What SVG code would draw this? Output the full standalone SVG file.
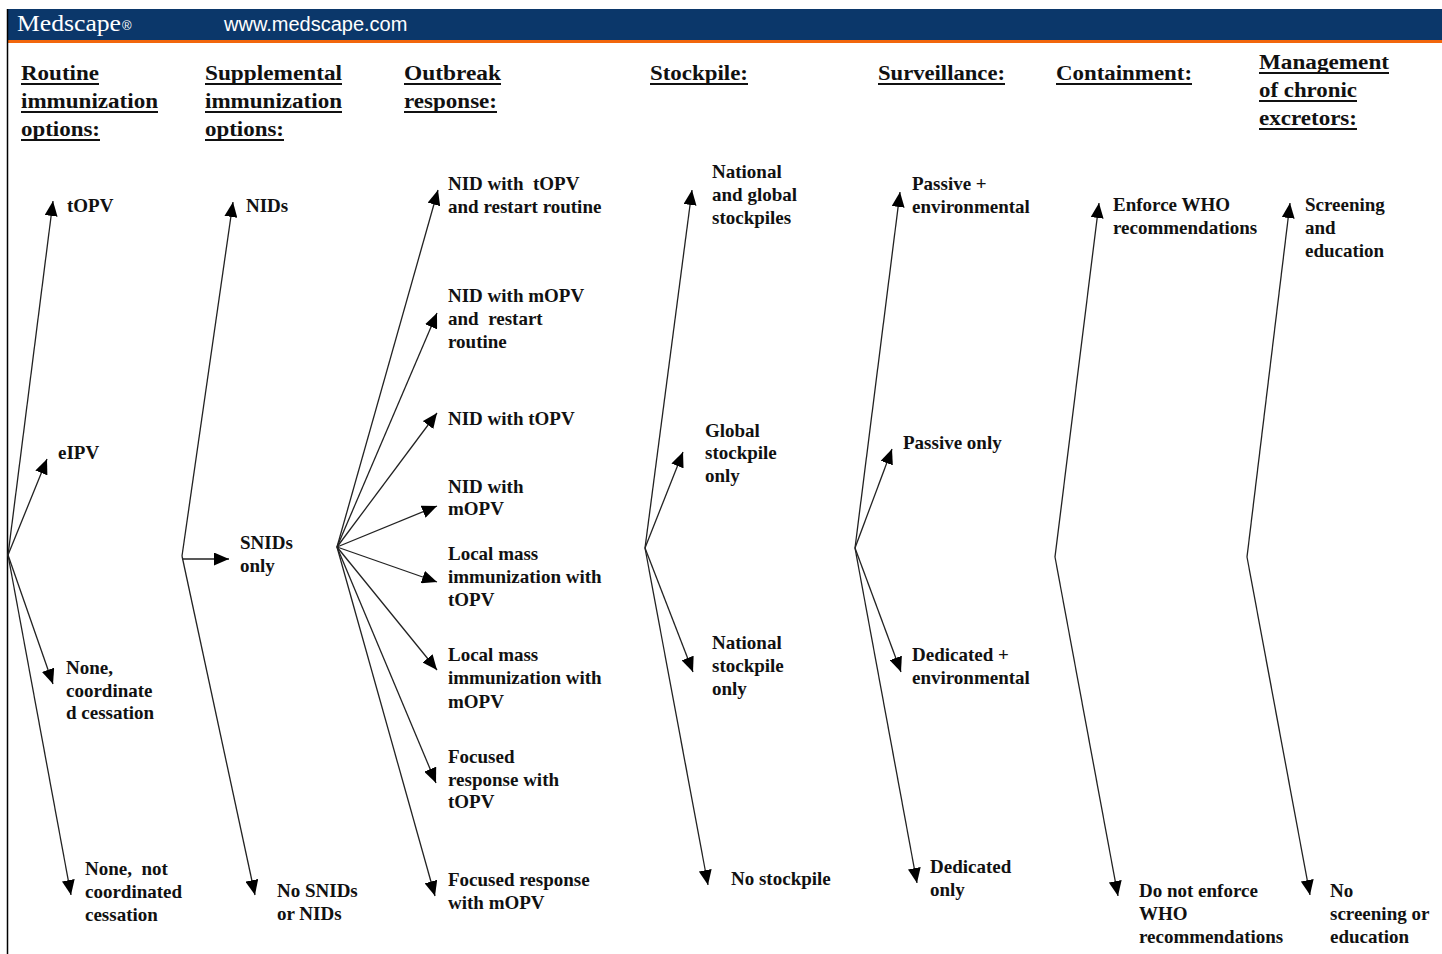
<svg xmlns="http://www.w3.org/2000/svg" width="1442" height="954" viewBox="0 0 1442 954">
<style>
.hd{font-family:"Liberation Serif","Times New Roman",serif;font-size:20px;font-weight:bold;fill:#111}
.ul{stroke:#111;stroke-width:1.8}
.lb{font-family:"Liberation Serif","Times New Roman",serif;font-size:19px;font-weight:bold;fill:#111}
.cn{stroke:#222;stroke-width:1.3;fill:none;marker-end:url(#ah)}
</style>
<defs>
<marker id="ah" viewBox="0 0 15 13" refX="15" refY="6.5" markerWidth="15" markerHeight="13" markerUnits="userSpaceOnUse" orient="auto">
<path d="M0,0 L15,6.5 L0,13 z" fill="#000"/>
</marker>
</defs>
<rect width="1442" height="954" fill="#fff"/>
<g id="banner">
<rect x="7" y="9" width="1435" height="31" fill="#0b376a"/>
<rect x="7" y="40" width="1435" height="3" fill="#f2660c"/>
<text x="17" y="31" font-family="Liberation Serif,serif" font-size="24" fill="#fff" textLength="104" lengthAdjust="spacingAndGlyphs">Medscape</text>
<text x="122" y="30" font-family="Liberation Sans,sans-serif" font-size="13" fill="#fff">®</text>
<text x="224" y="31" font-family="Liberation Sans,sans-serif" font-size="20" fill="#fff">www.medscape.com</text>
</g>
<line x1="7.5" y1="9" x2="7.5" y2="954" stroke="#000" stroke-width="1.5"/>

<g id="headers">
<text class="hd" x="21" y="80" textLength="78" lengthAdjust="spacingAndGlyphs">Routine</text>
<text class="hd" x="21" y="108" textLength="137" lengthAdjust="spacingAndGlyphs">immunization</text>
<text class="hd" x="21" y="136" textLength="79" lengthAdjust="spacingAndGlyphs">options:</text>
<text class="hd" x="205" y="80" textLength="137" lengthAdjust="spacingAndGlyphs">Supplemental</text>
<text class="hd" x="205" y="108" textLength="137" lengthAdjust="spacingAndGlyphs">immunization</text>
<text class="hd" x="205" y="136" textLength="79" lengthAdjust="spacingAndGlyphs">options:</text>
<text class="hd" x="404" y="80" textLength="97" lengthAdjust="spacingAndGlyphs">Outbreak</text>
<text class="hd" x="404" y="108" textLength="93" lengthAdjust="spacingAndGlyphs">response:</text>
<text class="hd" x="650" y="80" textLength="98" lengthAdjust="spacingAndGlyphs">Stockpile:</text>
<text class="hd" x="878" y="80" textLength="127" lengthAdjust="spacingAndGlyphs">Surveillance:</text>
<text class="hd" x="1056" y="80" textLength="136" lengthAdjust="spacingAndGlyphs">Containment:</text>
<text class="hd" x="1259" y="69" textLength="130" lengthAdjust="spacingAndGlyphs">Management</text>
<text class="hd" x="1259" y="97" textLength="98" lengthAdjust="spacingAndGlyphs">of chronic</text>
<text class="hd" x="1259" y="125" textLength="98" lengthAdjust="spacingAndGlyphs">excretors:</text>
<line class="ul" x1="21" y1="84" x2="99" y2="84"/>
<line class="ul" x1="21" y1="112" x2="158" y2="112"/>
<line class="ul" x1="21" y1="140" x2="100" y2="140"/>
<line class="ul" x1="205" y1="84" x2="342" y2="84"/>
<line class="ul" x1="205" y1="112" x2="342" y2="112"/>
<line class="ul" x1="205" y1="140" x2="284" y2="140"/>
<line class="ul" x1="404" y1="84" x2="501" y2="84"/>
<line class="ul" x1="404" y1="112" x2="497" y2="112"/>
<line class="ul" x1="650" y1="84" x2="748" y2="84"/>
<line class="ul" x1="878" y1="84" x2="1005" y2="84"/>
<line class="ul" x1="1056" y1="84" x2="1192" y2="84"/>
<line class="ul" x1="1259" y1="73" x2="1389" y2="73"/>
<line class="ul" x1="1259" y1="101" x2="1357" y2="101"/>
<line class="ul" x1="1259" y1="129" x2="1357" y2="129"/>
</g>

<g id="connectors">
<line class="cn" x1="8" y1="555" x2="53" y2="201"/>
<line class="cn" x1="8" y1="555" x2="47" y2="459"/>
<line class="cn" x1="8" y1="555" x2="53" y2="684"/>
<line class="cn" x1="8" y1="555" x2="71" y2="895"/>
<line class="cn" x1="182" y1="556" x2="233" y2="202"/>
<line class="cn" x1="182" y1="559" x2="229" y2="559"/>
<line class="cn" x1="182" y1="556" x2="255" y2="895"/>
<line class="cn" x1="337" y1="547" x2="438" y2="190"/>
<line class="cn" x1="337" y1="547" x2="437" y2="313"/>
<line class="cn" x1="337" y1="547" x2="437" y2="413"/>
<line class="cn" x1="337" y1="547" x2="437" y2="506"/>
<line class="cn" x1="337" y1="547" x2="437" y2="582"/>
<line class="cn" x1="337" y1="547" x2="437" y2="670"/>
<line class="cn" x1="337" y1="547" x2="436" y2="783"/>
<line class="cn" x1="337" y1="547" x2="435" y2="896"/>
<line class="cn" x1="645" y1="548" x2="692" y2="190"/>
<line class="cn" x1="645" y1="548" x2="683" y2="452"/>
<line class="cn" x1="645" y1="548" x2="693" y2="672"/>
<line class="cn" x1="645" y1="548" x2="708" y2="885"/>
<line class="cn" x1="855" y1="548" x2="900" y2="192"/>
<line class="cn" x1="855" y1="548" x2="892" y2="449"/>
<line class="cn" x1="855" y1="548" x2="901" y2="672"/>
<line class="cn" x1="855" y1="548" x2="917" y2="883"/>
<line class="cn" x1="1055" y1="557" x2="1099" y2="203"/>
<line class="cn" x1="1055" y1="557" x2="1118" y2="896"/>
<line class="cn" x1="1247" y1="557" x2="1290" y2="203"/>
<line class="cn" x1="1247" y1="557" x2="1310" y2="895"/>
</g>

<g id="n-topv"><text class="lb" x="67" y="212">tOPV</text></g>
<g id="n-eipv"><text class="lb" x="58" y="459">eIPV</text></g>
<g id="n-none-coord"><text class="lb" x="66" y="674">None,</text><text class="lb" x="66" y="697">coordinate</text><text class="lb" x="66" y="719">d cessation</text></g>
<g id="n-none-notcoord"><text class="lb" x="85" y="875" xml:space="preserve">None,  not</text><text class="lb" x="85" y="898">coordinated</text><text class="lb" x="85" y="921">cessation</text></g>

<g id="n-nids"><text class="lb" x="246" y="212">NIDs</text></g>
<g id="n-snids"><text class="lb" x="240" y="549">SNIDs</text><text class="lb" x="240" y="572">only</text></g>
<g id="n-nosnids"><text class="lb" x="277" y="897">No SNIDs</text><text class="lb" x="277" y="920">or NIDs</text></g>

<g id="n-ob1"><text class="lb" x="448" y="190" xml:space="preserve">NID with  tOPV</text><text class="lb" x="448" y="213">and restart routine</text></g>
<g id="n-ob2"><text class="lb" x="448" y="302">NID with mOPV</text><text class="lb" x="448" y="325" xml:space="preserve">and  restart</text><text class="lb" x="448" y="348">routine</text></g>
<g id="n-ob3"><text class="lb" x="448" y="425">NID with tOPV</text></g>
<g id="n-ob4"><text class="lb" x="448" y="493">NID with</text><text class="lb" x="448" y="515">mOPV</text></g>
<g id="n-ob5"><text class="lb" x="448" y="560">Local mass</text><text class="lb" x="448" y="583">immunization with</text><text class="lb" x="448" y="606">tOPV</text></g>
<g id="n-ob6"><text class="lb" x="448" y="661">Local mass</text><text class="lb" x="448" y="684">immunization with</text><text class="lb" x="448" y="708">mOPV</text></g>
<g id="n-ob7"><text class="lb" x="448" y="763">Focused</text><text class="lb" x="448" y="786">response with</text><text class="lb" x="448" y="808">tOPV</text></g>
<g id="n-ob8"><text class="lb" x="448" y="886">Focused response</text><text class="lb" x="448" y="909">with mOPV</text></g>

<g id="n-st1"><text class="lb" x="712" y="178">National</text><text class="lb" x="712" y="201">and global</text><text class="lb" x="712" y="224">stockpiles</text></g>
<g id="n-st2"><text class="lb" x="705" y="437">Global</text><text class="lb" x="705" y="459">stockpile</text><text class="lb" x="705" y="482">only</text></g>
<g id="n-st3"><text class="lb" x="712" y="649">National</text><text class="lb" x="712" y="672">stockpile</text><text class="lb" x="712" y="695">only</text></g>
<g id="n-st4"><text class="lb" x="731" y="885">No stockpile</text></g>

<g id="n-sv1"><text class="lb" x="912" y="190">Passive +</text><text class="lb" x="912" y="213">environmental</text></g>
<g id="n-sv2"><text class="lb" x="903" y="449">Passive only</text></g>
<g id="n-sv3"><text class="lb" x="912" y="661">Dedicated +</text><text class="lb" x="912" y="684">environmental</text></g>
<g id="n-sv4"><text class="lb" x="930" y="873">Dedicated</text><text class="lb" x="930" y="896">only</text></g>

<g id="n-ct1"><text class="lb" x="1113" y="211">Enforce WHO</text><text class="lb" x="1113" y="234">recommendations</text></g>
<g id="n-ct2"><text class="lb" x="1139" y="897">Do not enforce</text><text class="lb" x="1139" y="920">WHO</text><text class="lb" x="1139" y="943">recommendations</text></g>

<g id="n-mg1"><text class="lb" x="1305" y="211">Screening</text><text class="lb" x="1305" y="234">and</text><text class="lb" x="1305" y="257">education</text></g>
<g id="n-mg2"><text class="lb" x="1330" y="897">No</text><text class="lb" x="1330" y="920">screening or</text><text class="lb" x="1330" y="943">education</text></g>
</svg>
